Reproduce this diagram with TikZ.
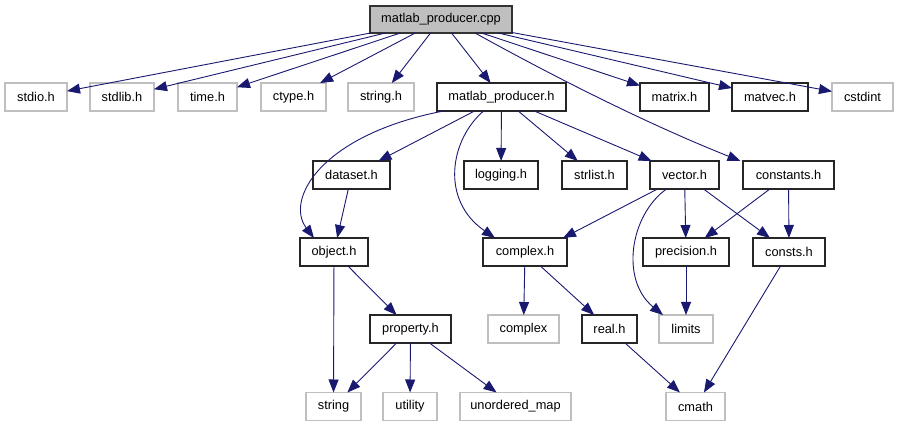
\documentclass[tikz,border=0pt]{standalone}
\usepackage{fontspec}
\setmainfont{Liberation Sans}
\usetikzlibrary{arrows.meta}
\definecolor{edgeblue}{HTML}{191970}
\definecolor{extgray}{HTML}{BFBFBF}
\begin{document}
\begin{tikzpicture}[x=1pt,y=-1pt,
  box/.style={draw=black!85,line width=1.3pt,minimum height=28pt,inner sep=0pt,outer sep=0pt,font=\fontsize{12.8}{14}\selectfont,fill=white},
  ext/.style={box,draw=extgray},
  root/.style={box,fill=extgray,draw=black!80},
  edge/.style={draw=edgeblue,line width=0.9pt,-{Triangle[length=13pt,width=10pt]}}]
\useasboundingbox (0,0) rectangle (899,427);
% row 1
\node[root,minimum width=142pt,minimum height=27pt] (cpp) at (441,19.5) {matlab\_producer.cpp};
% row 2
\node[ext,minimum width=62pt] (stdio) at (36,97) {stdio.h};
\node[ext,minimum width=64pt] (stdlib) at (122,97) {stdlib.h};
\node[ext,minimum width=59pt] (time) at (207.5,97) {time.h};
\node[ext,minimum width=65pt] (ctype) at (293.5,97) {ctype.h};
\node[ext,minimum width=66pt] (stringh) at (381,97) {string.h};
\node[box,minimum width=129pt] (mph) at (501.5,97) {matlab\_producer.h};
\node[box,minimum width=69pt] (matrix) at (674.5,97) {matrix.h};
\node[box,minimum width=76pt] (matvec) at (770,97) {matvec.h};
\node[ext,minimum width=61pt] (cstdint) at (862.5,97) {cstdint};
% row 3
\node[box,minimum width=77pt] (dataset) at (351.5,175) {dataset.h};
\node[box,minimum width=74pt] (logging) at (501,175) {logging.h};
\node[box,minimum width=65pt] (strlist) at (594.5,175) {strlist.h};
\node[box,minimum width=69pt] (vector) at (684.5,175) {vector.h};
\node[box,minimum width=91pt] (constants) at (788.5,175) {constants.h};
% row 4
\node[box,minimum width=68pt] (object) at (334,252) {object.h};
\node[box,minimum width=84pt] (complexh) at (525,252) {complex.h};
\node[box,minimum width=86pt] (precision) at (686,252) {precision.h};
\node[box,minimum width=72pt] (consts) at (789,252) {consts.h};
% row 5
\node[box,minimum width=81pt] (property) at (410.5,329) {property.h};
\node[ext,minimum width=71pt] (complex) at (523.5,329) {complex};
\node[box,minimum width=55pt] (real) at (609.5,329) {real.h};
\node[ext,minimum width=54pt] (limits) at (686,329) {limits};
% row 6
\node[ext,minimum width=55pt] (string) at (333.5,406.5) {string};
\node[ext,minimum width=54pt] (utility) at (410,406.5) {utility};
\node[ext,minimum width=111pt] (umap) at (515.5,406.5) {unordered\_map};
\node[ext,minimum width=59pt] (cmath) at (695.5,406.5) {cmath};
% edges from cpp
\foreach \t in {stdio,stdlib,time,ctype,stringh,mph,matrix,matvec,cstdint}
  \draw[edge] (cpp) -- (\t);
\draw[edge] ([xshift=34pt]cpp.south) .. controls (560,80) and (650,125) .. ([xshift=-48pt]constants.north);
% edges from mph
\foreach \t in {dataset,logging,strlist,vector}
  \draw[edge] (mph) -- (\t);
\draw[edge] ([xshift=-58pt]mph.south) .. controls (320,135) and (285,200) .. ([xshift=-20pt]object.north);
\draw[edge] ([xshift=-18pt]mph.south) .. controls (450,140) and (440,200) .. ([xshift=-30pt]complexh.north);
% others
\draw[edge] (dataset) -- (object);
\draw[edge] (object) -- (string);
\draw[edge] (object) -- (property);
\draw[edge] (property) -- (string);
\draw[edge] (property) -- (utility);
\draw[edge] (property) -- (umap);
\draw[edge] (complexh) -- (complex);
\draw[edge] (complexh) -- (real);
\draw[edge] (real) -- (cmath);
\draw[edge] (vector) -- ([xshift=38pt]complexh.north);
\draw[edge] (vector) -- (precision);
\draw[edge] (vector) -- (consts);
\draw[edge] ([xshift=-18pt]vector.south) .. controls (630,215) and (620,280) .. ([xshift=-23pt]limits.north);
\draw[edge] (constants) -- (precision);
\draw[edge] (constants) -- (consts);
\draw[edge] (precision) -- (limits);
\draw[edge] (consts) -- (cmath);
\end{tikzpicture}
\end{document}
